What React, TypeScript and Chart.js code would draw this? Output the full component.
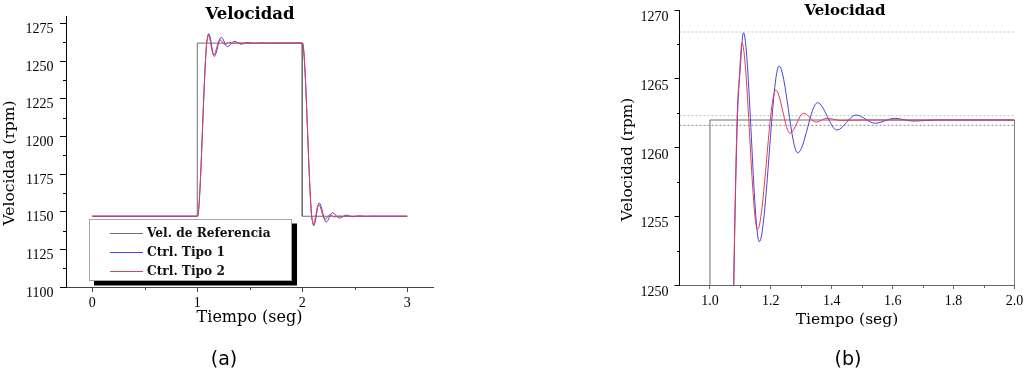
import React, { useEffect, useRef } from 'react';
import { Chart, registerables } from 'chart.js';

Chart.register(...registerables);

// ---------------- data ----------------
const legendLabels = ['Vel. de Referencia', 'Ctrl. Tipo 1', 'Ctrl. Tipo 2'];

const refTime = [0, 1, 1, 2, 2, 3];
const refValue = [1147, 1147, 1262, 1262, 1147, 1147];

const ctrl1Time = [
  0, 1.0, 1.01, 1.078, 1.09, 1.099, 1.11, 1.162, 1.227, 1.288, 1.353, 1.417, 1.479, 1.543, 1.605, 1.67, 1.74,
  2.0, 2.01, 2.078, 2.09, 2.099, 2.11, 2.162, 2.227, 2.288, 2.353, 2.417, 2.479, 2.543, 2.605, 2.67, 2.74, 3.0,
];
const ctrl1Value = [
  1147, 1147, 1149, 1250, 1262, 1265.6, 1268.35, 1253.15, 1265.93, 1259.6, 1263.26, 1261.27, 1262.36, 1261.76, 1262.12, 1261.92, 1262,
  1262, 1260, 1159, 1147, 1143.4, 1140.65, 1155.85, 1143.07, 1149.4, 1145.74, 1147.73, 1146.64, 1147.24, 1146.88, 1147.08, 1147, 1147,
];

const ctrl2Time = [
  0, 1.0, 1.01, 1.078, 1.089, 1.097, 1.105, 1.156, 1.216, 1.263, 1.307, 1.349, 1.384, 1.43, 1.5,
  2.0, 2.01, 2.078, 2.089, 2.097, 2.105, 2.156, 2.216, 2.263, 2.307, 2.349, 2.384, 2.43, 2.5, 3.0,
];
const ctrl2Value = [
  1147, 1147, 1149, 1250, 1262, 1265.3, 1267.6, 1254.05, 1264.18, 1261.03, 1262.49, 1261.85, 1262.12, 1261.97, 1262,
  1262, 1260, 1159, 1147, 1143.7, 1141.4, 1154.95, 1144.82, 1147.97, 1146.51, 1147.15, 1146.88, 1147.03, 1147, 1147,
];

// settling / overshoot guide levels shown in panel (b)
const bandLevels = [1268.4, 1262.32, 1261.61];

// ticks
const xTicksA = [0, 1, 2, 3];
const xMinorA = [0.5, 1.5, 2.5];
const yTicksA = [1100, 1125, 1150, 1175, 1200, 1225, 1250, 1275];
const yMinorA = [1112.5, 1137.5, 1162.5, 1187.5, 1212.5, 1237.5, 1262.5];

const xTicksB = [1.0, 1.2, 1.4, 1.6, 1.8, 2.0];
const xTickLabelsB = ['1.0', '1.2', '1.4', '1.6', '1.8', '2.0'];
const xMinorB = [1.1, 1.3, 1.5, 1.7, 1.9];
const yTicksB = [1250, 1255, 1260, 1265, 1270];
const yMinorB = [1252.5, 1257.5, 1262.5, 1267.5];

// ---------------- styles ----------------
const REF_COLOR = '#6f6f6f';
const C1_COLOR = 'rgb(70,70,215)';
const C2_COLOR = 'rgb(225,60,90)';
const SERIES_COLORS = [REF_COLOR, C1_COLOR, C2_COLOR];
const SERIF = "'DejaVu Serif', serif";
const TICK_FONT = { family: "'Liberation Serif', serif", size: 14 };

const toXY = (xs: number[], ys: number[]) => xs.map((x, i) => ({ x, y: ys[i] }));

// ---------------- plugins ----------------
const textPlugin = {
  id: 'texts',
  afterDraw(chart: any, _a: any, opts: any) {
    const ctx = chart.ctx as CanvasRenderingContext2D;
    (opts.items || []).forEach((it: any) => {
      ctx.save();
      ctx.fillStyle = it.color || '#000';
      ctx.font = it.font;
      ctx.textAlign = it.align || 'center';
      ctx.textBaseline = it.baseline || 'alphabetic';
      ctx.translate(it.x, it.y);
      if (it.rotate) ctx.rotate(-Math.PI / 2);
      ctx.fillText(it.text, 0, 0);
      ctx.restore();
    });
  },
};

const minorPlugin = {
  id: 'minorTicks',
  afterDraw(chart: any, _a: any, o: any) {
    const ctx = chart.ctx as CanvasRenderingContext2D;
    const xs = chart.scales.x;
    const ys = chart.scales.y;
    const area = chart.chartArea;
    ctx.save();
    ctx.setLineDash([]);
    ctx.lineWidth = 1;
    ctx.strokeStyle = o.xColor;
    (o.x || []).forEach((v: number) => {
      const px = Math.round(xs.getPixelForValue(v)) + 0.5;
      ctx.beginPath();
      ctx.moveTo(px, Math.round(area.bottom));
      ctx.lineTo(px, Math.round(area.bottom) + o.len);
      ctx.stroke();
    });
    ctx.strokeStyle = o.yColor;
    (o.y || []).forEach((v: number) => {
      const py = Math.round(ys.getPixelForValue(v)) + 0.5;
      ctx.beginPath();
      ctx.moveTo(Math.round(area.left), py);
      ctx.lineTo(Math.round(area.left) - o.len, py);
      ctx.stroke();
    });
    ctx.restore();
  },
};

const boxLegendPlugin = {
  id: 'boxLegend',
  afterDraw(chart: any, _a: any, o: any) {
    if (!o || !o.display) return;
    const ctx = chart.ctx as CanvasRenderingContext2D;
    ctx.save();
    ctx.setLineDash([]);
    ctx.fillStyle = '#000';
    ctx.fillRect(o.left + o.dx, o.top + o.dy, o.width, o.height);
    ctx.fillStyle = '#fff';
    ctx.fillRect(o.left, o.top, o.width, o.height);
    ctx.strokeStyle = '#a8a8a8';
    ctx.lineWidth = 1;
    ctx.strokeRect(o.left + 0.5, o.top + 0.5, o.width - 1, o.height - 1);
    ctx.font = o.font;
    ctx.textAlign = 'left';
    ctx.textBaseline = 'middle';
    legendLabels.forEach((label, i) => {
      const y = Math.round(o.rows[i]);
      ctx.fillStyle = SERIES_COLORS[i];
      ctx.fillRect(o.lineX0, y, o.lineX1 - o.lineX0, 1);
      ctx.fillStyle = '#111';
      ctx.fillText(label, o.textX, o.rows[i] + 1);
    });
    ctx.restore();
  },
};

// ---------------- chart builders ----------------
function datasets(withBands: boolean) {
  const ds: any[] = [
    {
      label: legendLabels[0],
      data: toXY(refTime, refValue),
      borderColor: SERIES_COLORS[0],
      borderWidth: 1,
      pointRadius: 0,
      tension: 0,
      order: 3,
    },
    {
      label: legendLabels[1],
      data: toXY(ctrl1Time, ctrl1Value),
      borderColor: SERIES_COLORS[1],
      borderWidth: 1,
      pointRadius: 0,
      cubicInterpolationMode: 'monotone',
      order: 2,
    },
    {
      label: legendLabels[2],
      data: toXY(ctrl2Time, ctrl2Value),
      borderColor: SERIES_COLORS[2],
      borderWidth: 1,
      pointRadius: 0,
      cubicInterpolationMode: 'monotone',
      order: 1,
    },
  ];
  if (withBands) {
    const bandColors = ['#c4c4c4', '#c4c4c4', '#8c8c8c'];
    bandLevels.forEach((lv, i) => {
      ds.push({
        label: 'band' + i,
        data: [
          { x: 0.9, y: lv },
          { x: 2.0, y: lv },
        ],
        borderColor: bandColors[i],
        borderWidth: 1,
        borderDash: [2, 2],
        pointRadius: 0,
        order: 4,
      });
    });
  }
  return ds;
}

function axisX(min: number, max: number, ticks: number[], labelFn: (v: number) => string, color: string, tl: number, pad: number, height: number) {
  return {
    type: 'linear',
    position: 'bottom',
    min,
    max,
    afterBuildTicks: (s: any) => {
      s.ticks = ticks.map((v) => ({ value: v }));
    },
    afterFit: (s: any) => {
      s.height = height;
      s.paddingLeft = 0;
      s.paddingRight = 0;
      s.paddingTop = 0;
      s.paddingBottom = 0;
    },
    grid: { display: true, drawOnChartArea: false, drawTicks: true, tickLength: tl, tickColor: color },
    border: { display: true, color, width: 1 },
    ticks: {
      font: TICK_FONT,
      color: '#000',
      padding: pad,
      maxRotation: 0,
      minRotation: 0,
      autoSkip: false,
      callback: (v: any) => labelFn(Number(v)),
    },
  };
}

function axisY(min: number, max: number, ticks: number[], width: number, color: string, tl: number, pad: number, offset: number) {
  return {
    type: 'linear',
    position: 'left',
    min,
    max,
    afterBuildTicks: (s: any) => {
      s.ticks = ticks.map((v) => ({ value: v }));
    },
    afterFit: (s: any) => {
      s.width = width;
      s.paddingLeft = 0;
      s.paddingRight = 0;
      s.paddingTop = 0;
      s.paddingBottom = 0;
    },
    grid: { display: true, drawOnChartArea: false, drawTicks: true, tickLength: tl, tickColor: color },
    border: { display: true, color, width: 1 },
    ticks: {
      font: TICK_FONT,
      color: '#000',
      padding: pad,
      labelOffset: offset,
      autoSkip: false,
      callback: (v: any) => String(v),
    },
  };
}

function configA(): any {
  return {
    type: 'line',
    data: { datasets: datasets(false) },
    plugins: [minorPlugin, boxLegendPlugin, textPlugin],
    options: {
      animation: false,
      responsive: false,
      devicePixelRatio: 1,
      events: [],
      layout: { padding: { left: 0, top: 16, right: 1024 - 433.5, bottom: 0 } },
      scales: {
        x: axisX(-0.25, 3.25, xTicksA, (v) => String(v), '#444', 5, 3, 374 - 287),
        y: axisY(1100, 1280, yTicksA, 66, '#000', 6, 6.5, 6),
      },
      plugins: {
        legend: { display: false },
        title: { display: false },
        tooltip: { enabled: false },
        minorTicks: { x: xMinorA, y: yMinorA, len: 3, xColor: '#444', yColor: '#000' },
        boxLegend: {
          display: true,
          left: 89,
          top: 219,
          width: 203,
          height: 62,
          dx: 5,
          dy: 4.5,
          lineX0: 110,
          lineX1: 143,
          textX: 147,
          rows: [232.5, 252, 271],
          font: `bold 12.2px ${SERIF}`,
        },
        texts: {
          items: [
            { text: 'Velocidad', x: 250, y: 19, font: `bold 16.5px ${SERIF}` },
            { text: 'Tiempo (seg)', x: 249.5, y: 322, font: `16px ${SERIF}` },
            { text: 'Velocidad (rpm)', x: 9.5, y: 163, font: `15.5px ${SERIF}`, rotate: true, baseline: 'middle' },
            { text: '(a)', x: 224, y: 360, font: "19px 'DejaVu Sans', sans-serif", baseline: 'middle' },
          ],
        },
      },
    },
  };
}

function configB(): any {
  return {
    type: 'line',
    data: { datasets: datasets(true) },
    plugins: [minorPlugin, textPlugin],
    options: {
      animation: false,
      responsive: false,
      devicePixelRatio: 1,
      events: [],
      layout: { padding: { left: 590, top: 10, right: 1024 - 1014.5, bottom: 0 } },
      scales: {
        x: axisX(0.9, 2.0, xTicksB, (v) => {
          const i = xTicksB.findIndex((t) => Math.abs(t - v) < 1e-6);
          return i >= 0 ? xTickLabelsB[i] : '';
        }, '#666', 4, 3.5, 374 - 285),
        y: axisY(1250, 1270, yTicksB, 679.5 - 590, '#000', 5, 6, 7.5),
      },
      plugins: {
        legend: { display: false },
        title: { display: false },
        tooltip: { enabled: false },
        minorTicks: { x: xMinorB, y: yMinorB, len: 3, xColor: '#666', yColor: '#000' },
        texts: {
          items: [
            { text: 'Velocidad', x: 845, y: 15, font: `bold 15px ${SERIF}` },
            { text: 'Tiempo (seg)', x: 847, y: 324, font: `15.5px ${SERIF}` },
            { text: 'Velocidad (rpm)', x: 628.5, y: 159.5, font: `15.3px ${SERIF}`, rotate: true, baseline: 'middle' },
            { text: '(b)', x: 848, y: 360, font: "19px 'DejaVu Sans', sans-serif", baseline: 'middle' },
          ],
        },
      },
    },
  };
}

export default function App() {
  const refA = useRef<HTMLCanvasElement | null>(null);
  const refB = useRef<HTMLCanvasElement | null>(null);

  useEffect(() => {
    const a = new Chart(refA.current as HTMLCanvasElement, configA());
    const b = new Chart(refB.current as HTMLCanvasElement, configB());
    return () => {
      a.destroy();
      b.destroy();
    };
  }, []);

  return (
    <div style={{ position: 'fixed', left: 0, top: 0, width: 1024, height: 374, background: '#fff', overflow: 'hidden' }}>
      <canvas ref={refA} width={1024} height={374} style={{ position: 'absolute', left: 0, top: 0 }} />
      <canvas ref={refB} width={1024} height={374} style={{ position: 'absolute', left: 0, top: 0 }} />
    </div>
  );
}
